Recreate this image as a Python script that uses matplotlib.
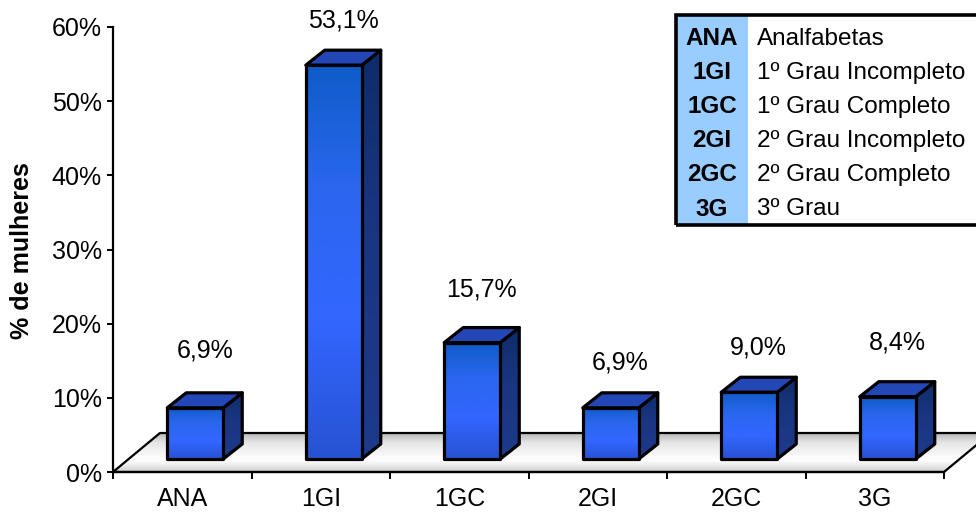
import numpy as np
import matplotlib
matplotlib.use("Agg")
import matplotlib.pyplot as plt
from matplotlib.patches import Polygon, Rectangle
from matplotlib.colors import LinearSegmentedColormap

# --- data -------------------------------------------------------------
categories = ["ANA", "1GI", "1GC", "2GI", "2GC", "3G"]
values = [6.9, 53.1, 15.7, 6.9, 9.0, 8.4]
value_labels = ["6,9%", "53,1%", "15,7%", "6,9%", "9,0%", "8,4%"]
yticks = [0, 10, 20, 30, 40, 50, 60]
ytick_labels = ["0%", "10%", "20%", "30%", "40%", "50%", "60%"]
legend_codes = ["ANA", "1GI", "1GC", "2GI", "2GC", "3G"]
legend_names = ["Analfabetas", "1º Grau Incompleto", "1º Grau Completo",
                "2º Grau Incompleto", "2º Grau Completo", "3º Grau"]

# vertical gap (pixels) between each bar's front top edge and its value label
label_lift_px = [57, 45, 53, 45, 45, 54]

FONT = "Liberation Sans"
plt.rcParams["font.family"] = [FONT, "DejaVu Sans"]
FS = 18
FS_TABLE = 17.5

W, H = 976, 515
fig = plt.figure(figsize=(W / 100, H / 100), dpi=100)
fig.patch.set_facecolor("white")

# plot area in pixels
AX_L, AX_R, AX_T, AX_B = 113, 944, 27, 472
ax = fig.add_axes([AX_L / W, 1 - AX_B / H, (AX_R - AX_L) / W, (AX_B - AX_T) / H])
XMIN, XMAX, YMIN, YMAX = -0.5, len(categories) - 0.5, 0, 60

px_x = (XMAX - XMIN) / (AX_R - AX_L)
px_y = (YMAX - YMIN) / (AX_B - AX_T)

# oblique projection offsets (pixels -> data units)
FLOOR_DX, FLOOR_DY = 47 * px_x, 39 * px_y
FRONT_DX, FRONT_DY = 13 * px_x, 13 * px_y
DEPTH_DX, DEPTH_DY = 19 * px_x, 15 * px_y
BAR_W = 56 * px_x

EDGE_LW = 2.3

# --- floor --------------------------------------------------------------
floor_pts = [(XMIN, 0), (XMAX, 0), (XMAX + FLOOR_DX, FLOOR_DY), (XMIN + FLOOR_DX, FLOOR_DY)]
floor_cmap = LinearSegmentedColormap.from_list(
    "floor", [(0.0, "#cfcfcf"), (0.3, "#ffffff"), (0.75, "#e6e6e6"), (1.0, "#b8b8b8")])
grad = np.linspace(0, 1, 256).reshape(-1, 1)
floor_poly = Polygon(floor_pts, closed=True, facecolor="none", edgecolor="black",
                     lw=1.6, zorder=2, clip_on=False)
im = ax.imshow(grad, cmap=floor_cmap, extent=(XMIN, XMAX + FLOOR_DX, 0, FLOOR_DY),
               origin="lower", aspect="auto", zorder=1, interpolation="bilinear")
ax.add_patch(floor_poly)
im.set_clip_path(floor_poly)
im.set_clip_box(fig.bbox)

# --- bars ---------------------------------------------------------------
front_cmap = LinearSegmentedColormap.from_list(
    "front", [(0.0, "#2752d2"), (0.35, "#3366ff"), (0.7, "#2a66ee"), (1.0, "#0f5cc8")])
side_cmap = LinearSegmentedColormap.from_list(
    "side", [(0.0, "#1d3a8c"), (0.6, "#1a3580"), (1.0, "#0e2c6a")])

for i, v in enumerate(values):
    x0 = i + FRONT_DX - BAR_W / 2
    x1 = x0 + BAR_W
    y0 = FRONT_DY
    y1 = FRONT_DY + v

    side = Polygon([(x1, y0), (x1 + DEPTH_DX, y0 + DEPTH_DY),
                    (x1 + DEPTH_DX, y1 + DEPTH_DY), (x1, y1)],
                   closed=True, facecolor="none", edgecolor="black",
                   lw=EDGE_LW, joinstyle="round", zorder=5)
    ax.add_patch(side)
    sim = ax.imshow(grad, cmap=side_cmap, extent=(x1, x1 + DEPTH_DX, y0, y1 + DEPTH_DY),
                    origin="lower", aspect="auto", zorder=4, interpolation="bilinear")
    sim.set_clip_path(side)

    top = Polygon([(x0, y1), (x1, y1), (x1 + DEPTH_DX, y1 + DEPTH_DY),
                   (x0 + DEPTH_DX, y1 + DEPTH_DY)],
                  closed=True, facecolor="#2447b8", edgecolor="black",
                  lw=EDGE_LW, joinstyle="round", zorder=5)
    ax.add_patch(top)

    front = Polygon([(x0, y0), (x1, y0), (x1, y1), (x0, y1)], closed=True,
                    facecolor="none", edgecolor="black", lw=EDGE_LW,
                    joinstyle="round", zorder=6)
    ax.add_patch(front)
    fim = ax.imshow(grad, cmap=front_cmap, extent=(x0, x1, y0, y1),
                    origin="lower", aspect="auto", zorder=5.5, interpolation="bilinear")
    fim.set_clip_path(front)

    ax.annotate(value_labels[i], xy=(i + FRONT_DX + DEPTH_DX / 2, y1),
                xytext=(0, label_lift_px[i] * 0.72), textcoords="offset points",
                ha="center", va="center", fontsize=FS, color="black", zorder=7)

# --- axes ---------------------------------------------------------------
ax.set_xlim(XMIN, XMAX)
ax.set_ylim(YMIN, YMAX)
for s in ("top", "right"):
    ax.spines[s].set_visible(False)
for s in ("left", "bottom"):
    ax.spines[s].set_linewidth(1.6)
    ax.spines[s].set_zorder(3)
ax.patch.set_alpha(0)

ax.set_yticks(yticks)
ax.set_yticklabels(ytick_labels, fontsize=FS)
ax.tick_params(axis="y", direction="out", length=4, width=1.4, pad=4)

ax.set_xticks(range(len(categories)))
ax.set_xticklabels(categories, fontsize=FS)
ax.set_xticks(np.arange(XMIN, XMAX + 0.01, 1.0), minor=True)
ax.tick_params(axis="x", which="major", length=0, pad=11)
ax.tick_params(axis="x", which="minor", direction="out", length=5, width=1.4)

fig.text(22 / W, 1 - 251 / H, "% de mulheres", rotation=90, ha="center",
         va="center", fontsize=FS, fontweight="bold")

# --- code table ----------------------------------------------------------
def fx(px):
    return px / W

def fy(py):
    return 1 - py / H

BOX_L, BOX_R, BOX_T, BOX_B = 676, 980, 15, 225
CODE_R = 748
fig.add_artist(Rectangle((fx(BOX_L), fy(BOX_B)), fx(BOX_R) - fx(BOX_L), fy(BOX_T) - fy(BOX_B),
                         transform=fig.transFigure, facecolor="white", edgecolor="none", zorder=8))
fig.add_artist(Rectangle((fx(BOX_L), fy(BOX_B)), fx(CODE_R) - fx(BOX_L), fy(BOX_T) - fy(BOX_B),
                         transform=fig.transFigure, facecolor="#99ccff", edgecolor="none", zorder=9))
fig.add_artist(Rectangle((fx(BOX_L), fy(BOX_B)), fx(BOX_R) - fx(BOX_L), fy(BOX_T) - fy(BOX_B),
                         transform=fig.transFigure, facecolor="none", edgecolor="black",
                         lw=2.6, zorder=10))

ROW0, ROW_STEP = 38.5, 34.1
for k, (code, name) in enumerate(zip(legend_codes, legend_names)):
    yy = fy(ROW0 + k * ROW_STEP)
    fig.text(fx(712), yy, code, ha="center", va="center", fontsize=FS_TABLE,
             fontweight="bold", zorder=11)
    fig.text(fx(757), yy, name, ha="left", va="center", fontsize=FS_TABLE, zorder=11)

fig.savefig("out.png", dpi=100, facecolor="white")
